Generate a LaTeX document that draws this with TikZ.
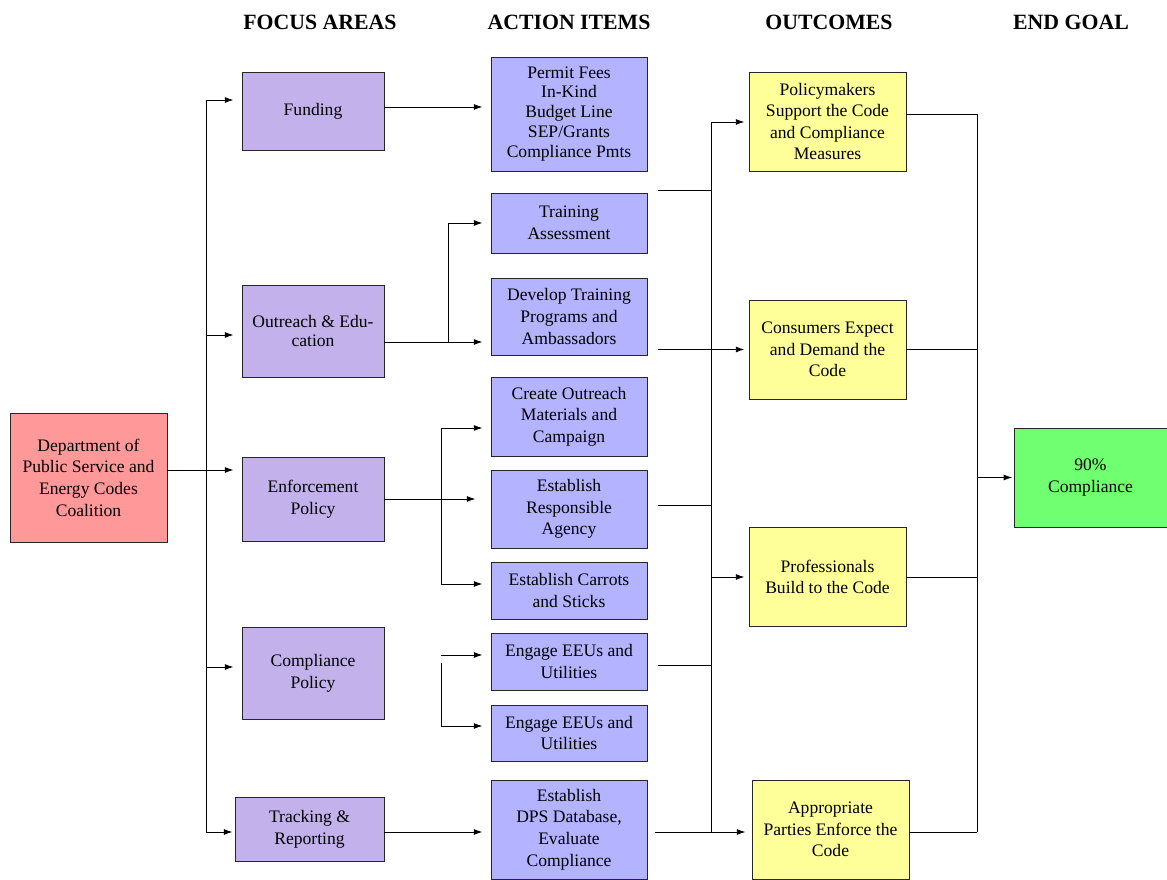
\documentclass[tikz,border=0pt]{standalone}
\usepackage{fontspec}
\setmainfont{Liberation Serif}
\usepackage{xcolor}
\usepackage{tikz}
\usetikzlibrary{calc,arrows.meta}

\definecolor{srcred}{HTML}{FF9999}
\definecolor{focuslav}{HTML}{C3B1EB}
\definecolor{actblue}{HTML}{B3B3FF}
\definecolor{outyel}{HTML}{FFFF99}
\definecolor{goalgrn}{HTML}{70FF70}

\tikzset{
  box/.style = {draw = black!85, line width = 0.6pt, align = center, inner sep = 0pt,
    font = \fontsize{12.5}{15.4}\selectfont},
  srcbox/.style = {box, fill = srcred, minimum width = 3.925cm, minimum height = 3.225cm},
  focbox/.style = {box, fill = focuslav, minimum width = 3.55cm},
  actbox/.style = {box, fill = actblue, minimum width = 3.9cm},
  outbox/.style = {box, fill = outyel, minimum width = 3.925cm, minimum height = 2.475cm},
  goalbox/.style = {box, fill = goalgrn, minimum width = 3.825cm, minimum height = 2.475cm},
  head/.style = {font = \fontsize{15.5}{16}\selectfont\bfseries},
  wire/.style = {line width = 0.7pt},
  arr/.style = {wire, -{Latex[length = 2.2mm, width = 1.5mm]}, shorten > = 0.2cm}
}

\begin{document}
\begin{tikzpicture}[x = 0.025cm, y = -0.025cm]
  \useasboundingbox (0,0) rectangle (1167,880);

  \node[head] (hfocus) at (320,22) {FOCUS AREAS};
  \node[head] (haction) at (569,22) {ACTION ITEMS};
  \node[head] (hout) at (829,22) {OUTCOMES};
  \node[head] (hgoal) at (1071,22) {END GOAL};

  \node[srcbox] (dps0) at (88.5,477.5) {Department of\\Public Service and\\Energy Codes\\Coalition};

  % focus areas
  \node[focbox, minimum height = 1.95cm] (fund) at (313,111) {Funding};
  \node[focbox, minimum height = 2.3cm, font = \fontsize{12.5}{14.2}\selectfont] (outr) at (313,331) {Outreach \& Edu-\\cation};
  \node[focbox, minimum height = 2.1cm] (enf) at (313,499) {Enforcement\\Policy};
  \node[focbox, minimum height = 2.3cm] (cpol) at (313,673) {Compliance\\Policy};
  \node[focbox, minimum width = 3.725cm, minimum height = 1.6cm] (track) at (309.5,829) {Tracking \&\\Reporting};

  % action items
  \node[actbox, minimum height = 2.85cm, font = \fontsize{12.5}{14.2}\selectfont] (fees) at (569,114) {Permit Fees\\In-Kind\\Budget Line\\SEP/Grants\\Compliance Pmts};
  \node[actbox, minimum height = 1.5cm] (tasm) at (569,223) {Training\\Assessment};
  \node[actbox, minimum height = 1.925cm] (dtrn) at (569,316.5) {Develop Training\\Programs and\\Ambassadors};
  \node[actbox, minimum height = 1.975cm] (cout) at (569,416.5) {Create Outreach\\Materials and\\Campaign};
  \node[actbox, minimum height = 1.95cm] (ragy) at (569,509) {Establish\\Responsible\\Agency};
  \node[actbox, minimum height = 1.425cm] (cars) at (569,590.5) {Establish Carrots\\and Sticks};
  \node[actbox, minimum height = 1.425cm] (eeua) at (569,661.5) {Engage EEUs and\\Utilities};
  \node[actbox, minimum height = 1.4cm] (eeub) at (569,733) {Engage EEUs and\\Utilities};
  \node[actbox, minimum height = 2.475cm] (dpsdb) at (569,829.5) {Establish\\DPS Database,\\Evaluate\\Compliance};

  % outcomes
  \node[outbox] (pol) at (827.5,121.5) {Policymakers\\Support the Code\\and Compliance\\Measures};
  \node[outbox] (con) at (827.5,349.5) {Consumers Expect\\and Demand the\\Code};
  \node[outbox] (pro) at (827.5,577) {Professionals\\Build to the Code};
  \node[outbox] (app) at (830.5,829.5) {Appropriate\\Parties Enforce the\\Code};

  \node[goalbox] (goal) at (1090.5,477.5) {90\%\\Compliance};

  % left bus
  \coordinate (lbT) at (206,100);
  \coordinate (lbO) at (206,335);
  \coordinate (lbE) at (206,470);
  \coordinate (lbC) at (206,667);
  \coordinate (lbB) at (206,832);
  \draw[wire] (lbT) -- (lbB);
  \draw[arr] (dps0.east |- lbE) -- (enf.west |- lbE);
  \draw[arr] (lbT) -- (fund.west |- lbT);
  \draw[arr] (lbO) -- (outr.west |- lbO);
  \draw[arr] (lbC) -- (cpol.west |- lbC);
  \draw[arr, shorten > = 0.05cm] (lbB) -- (track.west |- lbB);

  % focus areas to action items
  \coordinate (fr) at (0,107);
  \draw[arr] (fund.east |- fr) -- (fees.west |- fr);

  \coordinate (ob) at (448,342);
  \draw[arr] (outr.east |- ob) -- (dtrn.west |- ob);
  \draw[arr] (ob) |- (tasm.west);

  \coordinate (eb1) at (441,428);
  \coordinate (eb2) at (441,584);
  \draw[arr, shorten > = 0.375cm] (enf.east) -- (ragy.west |- enf.east);
  \draw[wire] (eb1) -- (eb2);
  \draw[arr] (eb1) -- (cout.west |- eb1);
  \draw[arr] (eb2) -- (cars.west |- eb2);

  \coordinate (cb1) at (441,655);
  \coordinate (cb2) at (441,663);
  \coordinate (cb3) at (441,726);
  \draw[arr] (cb1) -- (eeua.west |- cb1);
  \draw[arr] (cb2) -- (cb3) -- (eeub.west |- cb3);

  \draw[arr] (track.east |- lbB) -- (dpsdb.west |- lbB);

  % middle bus
  \coordinate (mT) at (711,122);
  \coordinate (m1) at (711,190);
  \coordinate (m3) at (711,505);
  \coordinate (m5) at (711,665);
  \coordinate (mB) at (711,832);
  \draw[wire] (mT) -- (mB);
  \draw[arr, shorten > = 0.1cm] (mT) -- (pol.west |- mT);
  \draw[wire, shorten < = 0.275cm] (tasm.east |- m1) -- (m1);
  \draw[arr, shorten < = 0.275cm, shorten > = 0.1cm] (dtrn.east |- con.west) -- (con.west);
  \draw[wire, shorten < = 0.275cm] (ragy.east |- m3) -- (m3);
  \draw[arr, shorten > = 0.1cm] (mB |- pro.west) -- (pro.west);
  \draw[wire, shorten < = 0.275cm] (eeua.east |- m5) -- (m5);
  \draw[arr, shorten < = 0.2cm, shorten > = 0.15cm] (dpsdb.east |- mB) -- (app.west |- mB);

  % right bus
  \coordinate (g1) at (977,114);
  \coordinate (g2) at (977,832);
  \draw[wire] (g1) -- (g2);
  \draw[wire] (pol.east |- g1) -- (g1);
  \draw[wire] (con.east) -- (con.east -| g1);
  \draw[wire] (pro.east) -- (pro.east -| g1);
  \draw[wire] (app.east |- g2) -- (g2);
  \draw[arr, shorten > = 0.03cm] (g1 |- goal.west) -- (goal.west);
\end{tikzpicture}
\end{document}
